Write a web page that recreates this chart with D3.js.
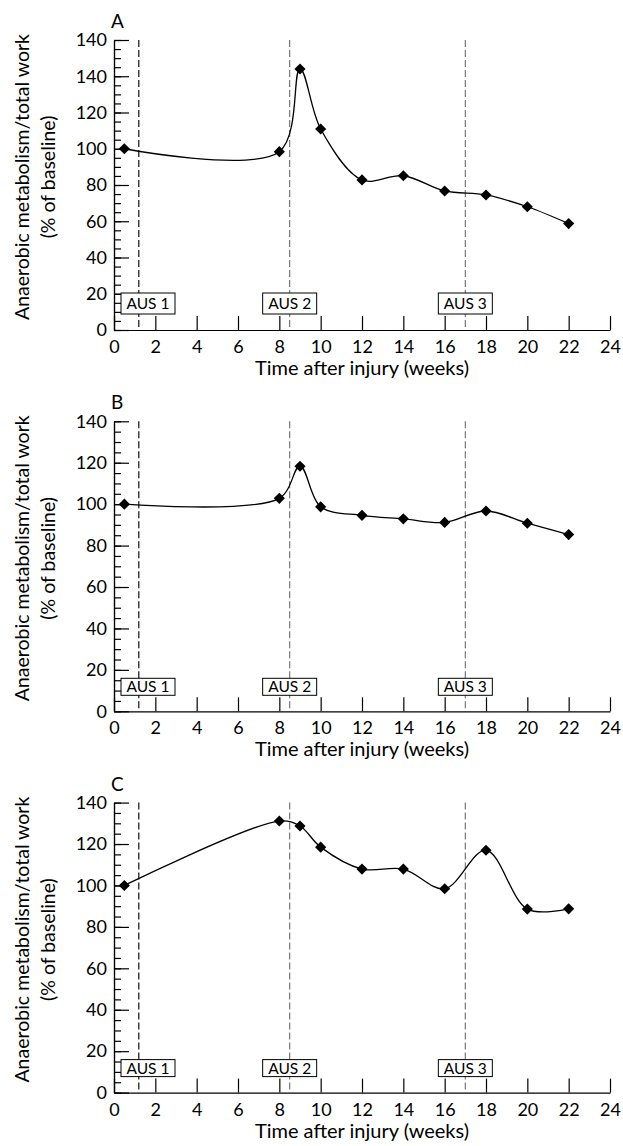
<!DOCTYPE html>
<html>
<head>
<meta charset="utf-8">
<script src="https://cdn.jsdelivr.net/npm/d3@7.9.0/dist/d3.min.js"></script>
<style>
  body { margin: 0; background: #fff; }
  svg { display: block; font-family: Lato, sans-serif; }
  .axis path, .axis line { stroke: #000; stroke-width: 1.2; }
  .axis text { font-size: 18px; fill: #000; font-family: Lato, sans-serif; }
</style>
</head>
<body>
<svg id="chart" width="623" height="1146"></svg>
<script>
// weeks after injury at which each test was done
const weeks = [0.5, 8, 9, 10, 12, 14, 16, 18, 20, 22];
const valuesA = [100, 98.4, 144, 110.9, 82.8, 85.1, 76.7, 74.5, 68.0, 58.7];
const valuesB = [100, 102.8, 118.3, 98.7, 94.6, 92.9, 91.2, 96.7, 90.8, 85.3];
const valuesC = [100, 131.1, 128.7, 118.5, 107.9, 107.9, 98.4, 117.0, 88.6, 88.7];

const ausWeeks = [1.2, 8.5, 17];
const ausLabels = ['AUS 1', 'AUS 2', 'AUS 3'];

const panelLetters = ['A', 'B', 'C'];
const xTicks = [0, 2, 4, 6, 8, 10, 12, 14, 16, 18, 20, 22, 24];
const yMaxes = [160, 140, 140];
// panel A's top label really reads 140 in the original
const yTickLabelsA = ['0', '20', '40', '60', '80', '100', '120', '140', '140'];
const yTickLabelsBC = ['0', '20', '40', '60', '80', '100', '120', '140'];

const panels = [
    { values: valuesA, yMax: yMaxes[0], labels: yTickLabelsA, boxH: 21 },
    { values: valuesB, yMax: yMaxes[1], labels: yTickLabelsBC, boxH: 17 },
    { values: valuesC, yMax: yMaxes[2], labels: yTickLabelsBC, boxH: 17 },
];

let svg = d3.select('#chart');
let x = d3.scaleLinear().domain([0, 24]).range([114, 610]);
let plotH = 290;

panels.forEach((p, idx) => {
    let zero = 330 + idx * 381.3;
    let y = d3.scaleLinear().domain([0, p.yMax]).range([zero, zero - plotH]);
    let g = svg.append('g');

    // AUS dashed lines
    ausWeeks.forEach((w, i) => {
        g.append('line')
            .attr('x1', x(w)).attr('x2', x(w))
            .attr('y1', y(p.yMax)).attr('y2', zero)
            .attr('stroke', i === 0 ? '#111' : '#777')
            .attr('stroke-width', 1.2)
            .attr('stroke-dasharray', '7,3');
    });

    // minor y ticks every 5
    g.append('g')
        .attr('class', 'axis')
        .attr('transform', `translate(${x(0)},0)`)
        .call(d3.axisLeft(y).tickValues(d3.range(0, p.yMax + 1, 5)).tickSize(-7).tickSizeOuter(0).tickFormat(''));

    // major y ticks
    g.append('g')
        .attr('class', 'axis')
        .attr('transform', `translate(${x(0)},0)`)
        .call(d3.axisLeft(y).tickValues(d3.range(0, p.yMax + 1, 20)).tickSize(-15).tickSizeOuter(0).tickPadding(7)
            .tickFormat((d, i) => p.labels[i]));

    // x axis
    g.append('g')
        .attr('class', 'axis')
        .attr('transform', `translate(0,${zero})`)
        .call(d3.axisBottom(x).tickValues(xTicks).tickSize(-14).tickSizeOuter(0).tickPadding(6))
        .selectAll('text').attr('dy', '0.95em');

    // AUS label boxes
    ausWeeks.forEach((w, i) => {
        let bw = 54;
        let cx = Math.max(x(w), x(0) + 7 + bw / 2);
        let lg = g.append('g');
        lg.append('rect')
            .attr('x', cx - bw / 2).attr('y', zero - 16 - p.boxH)
            .attr('width', bw).attr('height', p.boxH)
            .attr('fill', '#fff').attr('stroke', '#000').attr('stroke-width', 1);
        lg.append('text')
            .attr('x', cx).attr('y', zero - 16 - p.boxH / 2)
            .attr('dy', '0.36em')
            .attr('text-anchor', 'middle')
            .attr('font-size', 15.5)
            .text(ausLabels[i]);
    });

    // curve
    let line = d3.line()
        .x((d, i) => x(weeks[i]))
        .y(d => y(d))
        .curve(d3.curveCatmullRom.alpha(0.5));
    g.append('path')
        .attr('d', line(p.values))
        .attr('fill', 'none')
        .attr('stroke', '#000')
        .attr('stroke-width', 1.3);

    // diamonds
    let diamond = d3.symbol().type(d3.symbolSquare).size(62);
    g.selectAll('.pt')
        .data(p.values)
        .join('path')
        .attr('d', diamond)
        .attr('transform', (d, i) => `translate(${x(weeks[i])},${y(d)}) rotate(45)`)
        .attr('fill', '#000');

    // panel letter
    g.append('text')
        .attr('x', 111).attr('y', zero - plotH - 12)
        .attr('font-size', 19)
        .text(panelLetters[idx]);

    // x title
    g.append('text')
        .attr('x', (x(0) + x(24)) / 2).attr('y', zero + 45)
        .attr('text-anchor', 'middle')
        .attr('font-size', 20)
        .text('Time after injury (weeks)');

    // y title, two lines
    let cy = zero - 153;
    g.append('text')
        .attr('transform', `translate(29,${cy}) rotate(-90)`)
        .attr('text-anchor', 'middle')
        .attr('font-size', 19.5)
        .text('Anaerobic metabolism/total work');
    g.append('text')
        .attr('transform', `translate(55,${cy}) rotate(-90)`)
        .attr('text-anchor', 'middle')
        .attr('font-size', 19.5)
        .text('(% of baseline)');
});
</script>
</body>
</html>
